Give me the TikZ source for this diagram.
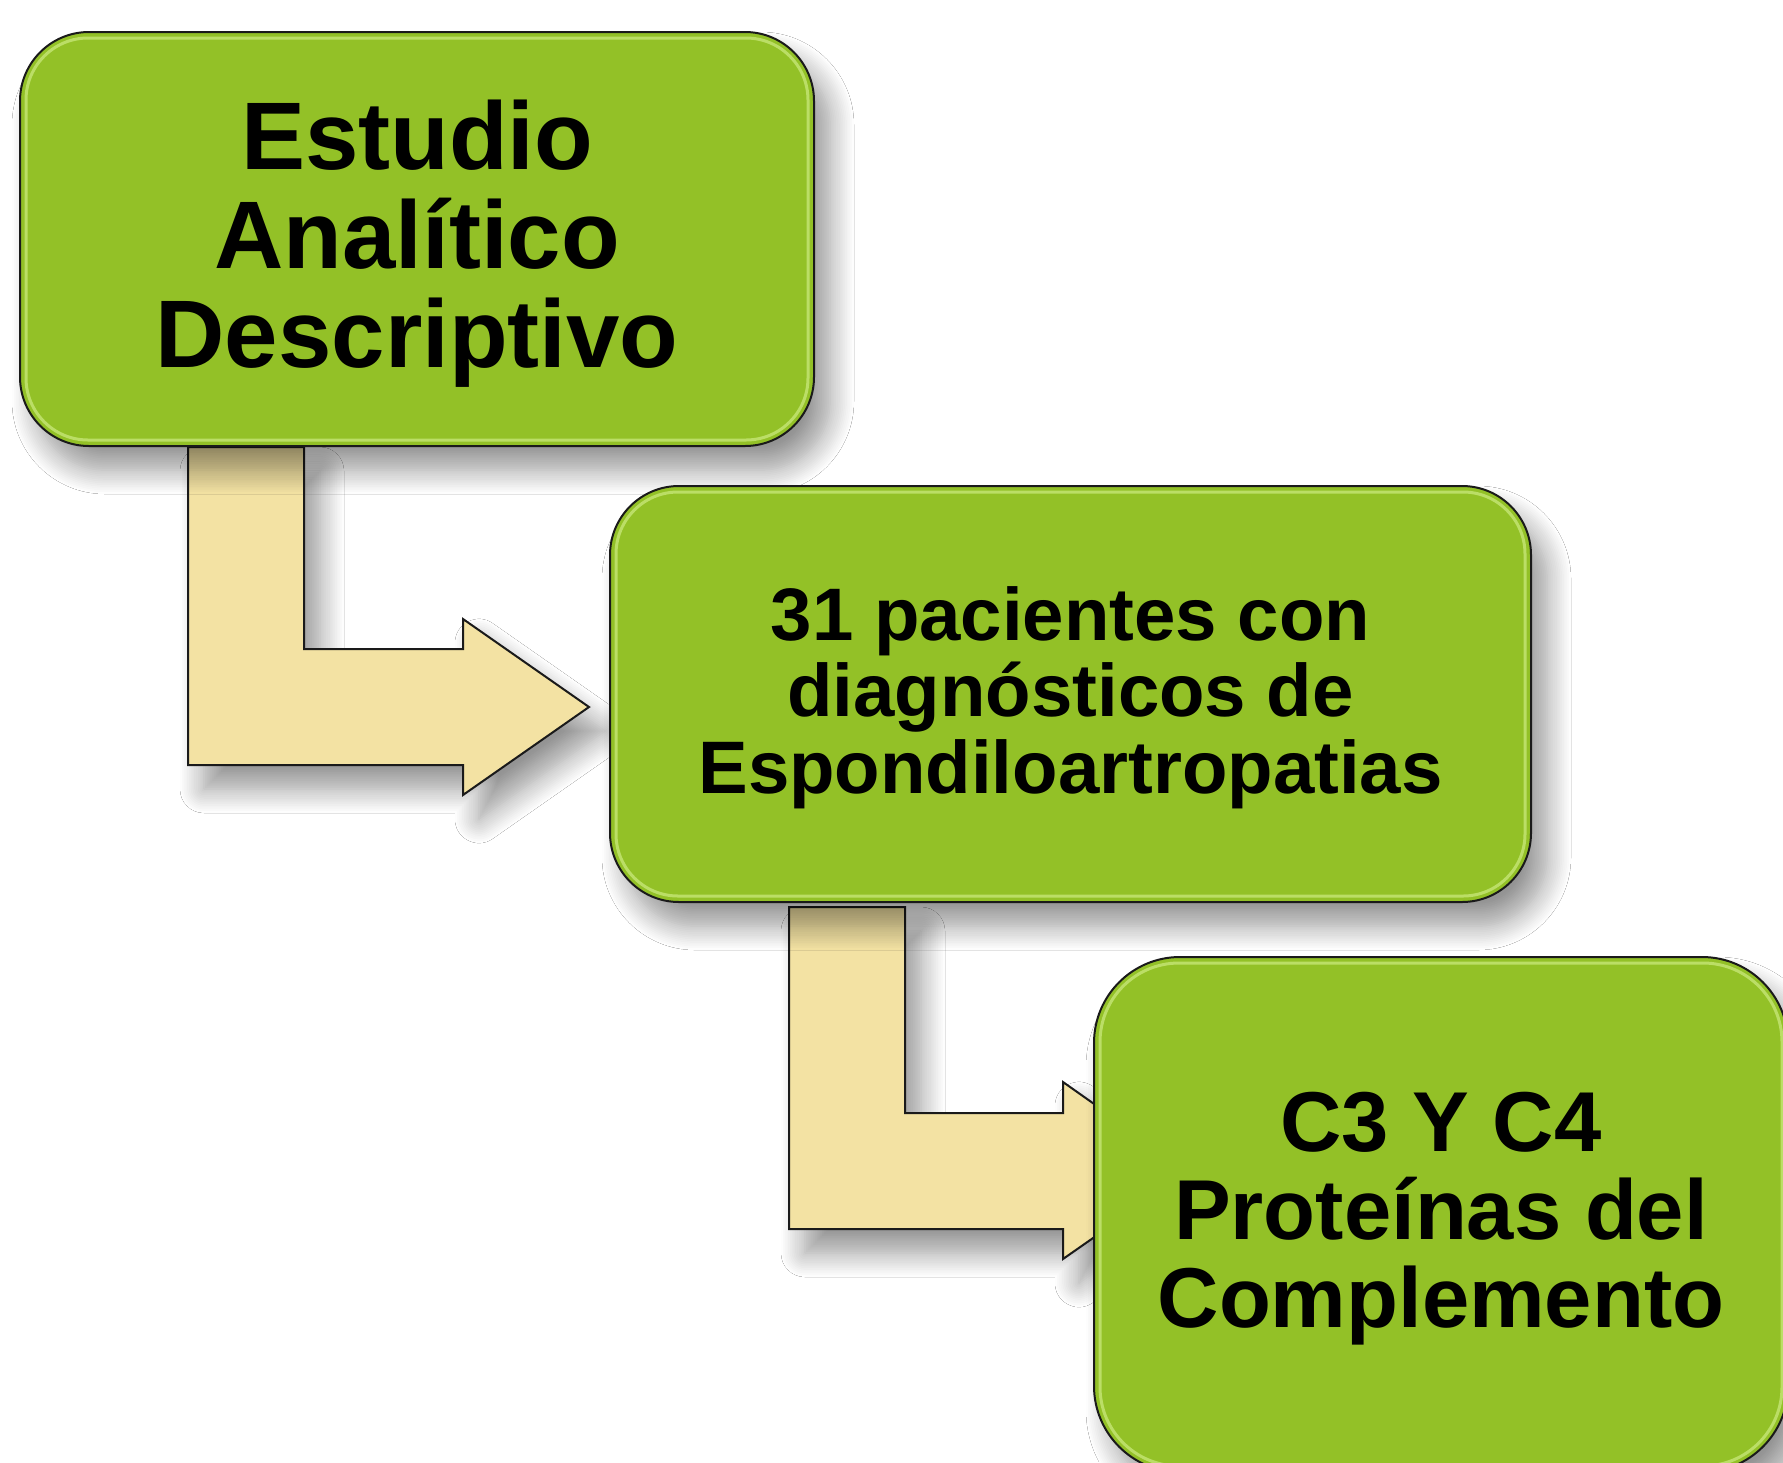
\documentclass[tikz,border=0pt]{standalone}
\usepackage{fontspec}
\setmainfont{Liberation Sans}
\usetikzlibrary{shadows.blur,calc}
\definecolor{boxgreen}{HTML}{93C127}
\definecolor{arrowbeige}{HTML}{F3E2A3}
\definecolor{edgegray}{HTML}{1A1A1A}
\definecolor{glowgreen}{HTML}{DDF79A}
\newcommand{\topstrut}[1]{\rule{0pt}{#1}}
\newcommand{\botstrut}[1]{\rule[-#1]{0pt}{#1}}
\begin{document}
\begin{tikzpicture}[x=0.5pt,y=-0.5pt,
  softshadow/.style={blur shadow={shadow xshift=8pt, shadow yshift=-12pt, shadow blur radius=12pt, shadow opacity=42, shadow blur steps=14}},
  gbox/.style={draw=edgegray, line width=1pt, fill=boxgreen, rectangle, inner sep=0pt, align=center, softshadow},
  barrow/.style={draw=edgegray, line width=1pt, fill=arrowbeige, line join=miter, softshadow},
  glossy/.style={draw=glowgreen, line width=1.5pt, opacity=0.55}
]
\clip (0,0) rectangle (1783,1462);
\fill[white] (0,0) rectangle (1783,1462);

% block arrows
\draw[barrow] (188,447) -- (304,447) -- (304,649) -- (463,649) -- (463,619) -- (589,707)
  -- (463,795) -- (463,765) -- (188,765) -- cycle;
\draw[barrow] (789,907) -- (905,907) -- (905,1113) -- (1063,1113) -- (1063,1082) -- (1189,1171)
  -- (1063,1259) -- (1063,1229) -- (789,1229) -- cycle;

% boxes
\node[gbox, rounded corners=34.5pt, minimum width=397pt, minimum height=207pt,
  font=\fontsize{48}{49.5}\selectfont\bfseries] (b1) at (417,239)
  {\topstrut{43.8pt}Estudio\\Analítico\\Descriptivo\botstrut{14.4pt}};
\draw[glossy, rounded corners=31pt] ($(b1.north west)+(7,7)$) rectangle ($(b1.south east)+(-7,-7)$);

\node[gbox, rounded corners=34.5pt, minimum width=460.5pt, minimum height=208pt,
  font=\fontsize{37.2}{38.25}\selectfont\bfseries] (b2) at (1070.5,694)
  {\topstrut{34.1pt}31 pacientes con\\diagnósticos de\\Espondiloartropatias\botstrut{11.2pt}};
\draw[glossy, rounded corners=31pt] ($(b2.north west)+(7,7)$) rectangle ($(b2.south east)+(-7,-7)$);

\node[gbox, rounded corners=43pt, minimum width=347pt, minimum height=257.5pt,
  font=\fontsize{42.5}{44}\selectfont\bfseries] (b3) at (1441,1214.5)
  {\topstrut{37.65pt}C3 Y C4\\Proteínas del\\Complemento\botstrut{12.75pt}};
\draw[glossy, rounded corners=39.5pt] ($(b3.north west)+(7,7)$) rectangle ($(b3.south east)+(-7,-7)$);
\end{tikzpicture}
\end{document}
